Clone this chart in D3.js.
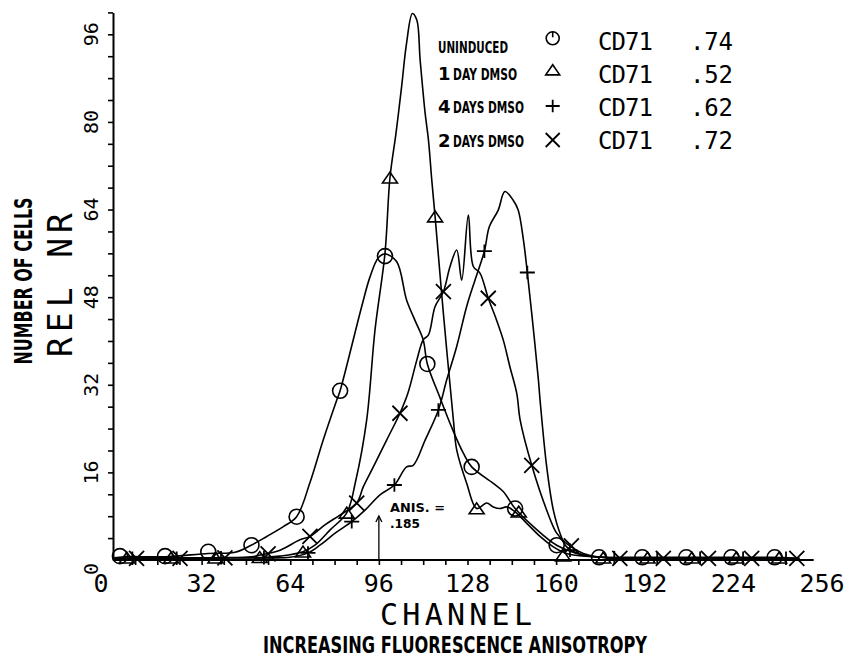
<!DOCTYPE html>
<html>
<head>
<meta charset="utf-8">
<script src="https://cdn.jsdelivr.net/npm/d3@7"></script>
<style>
  body { margin: 0; background: #fff; }
  svg { display: block; }
  .tick line { stroke: #000; stroke-width: 1.6; }
  .domain { stroke: #000; stroke-width: 2; }
</style>
</head>
<body>
<div id="chart"></div>
<script>
// ---- data ----
var channelTicks = [0, 32, 64, 96, 128, 160, 192, 224, 256];
var countTicks = [0, 16, 32, 48, 64, 80, 96];
var seriesNames = ["UNINDUCED", "1 DAY DMSO", "4 DAYS DMSO", "2 DAYS DMSO"];
var seriesSymbols = ["circle", "triangle", "plus", "cross"];
var markerLabel = ["CD71", "CD71", "CD71", "CD71"];
var markerValues = [".74", ".52", ".62", ".72"];
var anisChannel = 96;
var anisText = ["ANIS. =", ".185"];

// uninduced (circle)
var uninducedCh = [0.5, 4, 18.8, 34.4, 44, 49.5, 55.5, 61.5, 66.3, 71.1, 75.9, 80.8, 82, 89.8, 92.8, 95.8, 98.2,
  102.4, 106, 109, 112, 113.5, 118.1, 122.4, 126.5, 129.5, 137.3, 140.9, 145.2, 151.8, 160.2, 169.7, 175.8,
  191, 206.5, 222, 238, 244];
var uninducedVal = [0.4, 0.6, 0.6, 1.2, 1.4, 2.6, 4.3, 6.1, 7.9, 14.1, 21.9, 29.2, 30.9, 46.3, 51.7, 55.2, 55.9,
  54.5, 47.5, 43.8, 40.2, 35.8, 29.6, 24.1, 19.5, 17.0, 14.0, 12.5, 9.4, 6.1, 2.7, 0.9, 0.5,
  0.5, 0.5, 0.5, 0.5, 0.4];
var uninducedMarkCh = [2.5, 18.8, 34.4, 50, 66.3, 82, 98.2, 113.5, 129.5, 145.2, 160.2, 175.5, 191.1, 207, 223.3, 238.9];
var uninducedMarkVal = [0.7, 0.7, 1.5, 2.7, 7.9, 30.9, 55.5, 35.8, 17, 9.4, 2.7, 0.5, 0.5, 0.5, 0.5, 0.5];

// 1 day dmso (triangle)
var oneDayCh = [0.5, 20, 40, 55, 60.3, 68.6, 72.9, 78.4, 84.4, 87.7, 91.6, 94.6, 98.2, 100, 102.2, 104.2, 106,
  108.1, 109.7, 110.9, 112.7, 113.9, 115.1, 116.3, 119.3, 122.9, 124.1, 127.7, 131.3, 134.9, 137.3, 139.7,
  142.2, 145.2, 149.4, 154.2, 159, 163.8, 173.4, 190, 210, 230, 246];
var oneDayVal = [0.3, 0.4, 0.4, 0.5, 0.7, 1.5, 2.7, 5.5, 8.6, 14.6, 25.6, 42, 56, 69.8, 78, 86.4, 94.4,
  99.8, 98.6, 91.3, 81.6, 76.7, 69.4, 62.7, 45, 25.6, 20.1, 14, 9.4, 10.4, 9.7, 9.4,
  9.7, 8.8, 6.7, 4.3, 2.4, 1.2, 0.6, 0.4, 0.4, 0.4, 0.3];
var oneDayMarkCh = [5, 21, 37, 53, 68.6, 84.4, 100, 116.3, 131.3, 146.5, 162.5, 177, 193, 209, 225, 240.5];
var oneDayMarkVal = [0.4, 0.4, 0.4, 0.5, 1.5, 8.6, 69.8, 62.7, 9.4, 8.8, 0.8, 0.4, 0.4, 0.4, 0.4, 0.4];

// 4 days dmso (plus)
var fourDaysCh = [0.5, 20, 40, 55, 63.9, 70.4, 74.7, 80.2, 86.2, 91, 96.4, 101.6, 106, 108.4, 112.7, 117.5,
  120.5, 124.1, 127.7, 130.7, 134.1, 135.9, 139.1, 141.5, 144.5, 146.3, 148.2, 149.6, 151.2, 153.6, 154.2,
  156.6, 159, 161.4, 163.8, 169.8, 180, 200, 220, 246];
var fourDaysVal = [0.3, 0.3, 0.4, 0.4, 0.5, 1.3, 2.7, 4.9, 7, 9.1, 11.9, 13.7, 17, 17.3, 21.9, 27.4,
  32.9, 39, 46.3, 51.1, 56.4, 60.9, 63.9, 67.3, 65.7, 63.9, 58.4, 52.5, 45, 32.9, 29.2,
  17, 9.1, 4.9, 2.4, 0.9, 0.4, 0.3, 0.3, 0.3];
var fourDaysMarkCh = [7, 23, 39, 54.5, 70.4, 86.2, 101.6, 117.5, 134.1, 149.6, 165, 181, 196.5, 212, 227.5, 243];
var fourDaysMarkVal = [0.3, 0.3, 0.4, 0.4, 1.3, 7, 13.7, 27.4, 56.4, 52.5, 1.8, 0.4, 0.3, 0.3, 0.3, 0.3];

// 2 days dmso (cross)
var twoDaysCh = [0.5, 20, 40, 50, 53.1, 60.3, 67.5, 71.1, 76.5, 81.9, 88, 90.4, 94, 98.8, 103.6, 106.5, 109.7,
  112, 113.9, 116.3, 119.3, 121.7, 124.1, 125.9, 128.3, 130.1, 132.5, 135.5, 138.5, 140.9, 143.3, 145.8,
  147, 151.2, 156.6, 160.2, 163.8, 169.8, 174.7, 190, 220, 248];
var twoDaysVal = [0.3, 0.3, 0.4, 0.6, 0.9, 1.8, 3.7, 4.3, 6.4, 8.2, 10.4, 13.4, 17, 21.9, 26.8, 30.5, 36.5,
  40.2, 41.1, 46.3, 49, 53.6, 56.6, 51.1, 63, 53.6, 52.4, 47.8, 43.8, 40.2, 35.3, 30.4,
  25.6, 17.3, 9.1, 4.9, 3, 1.2, 0.6, 0.3, 0.3, 0.3];
var twoDaysMarkCh = [8.5, 24.2, 40.4, 56, 71.1, 88, 103.6, 119.3, 135.5, 151.2, 165.5, 183, 198.7, 215, 230.6, 246.9];
var twoDaysMarkVal = [0.3, 0.3, 0.4, 1.1, 4.3, 10.4, 26.8, 49, 47.8, 17.3, 2.6, 0.3, 0.3, 0.3, 0.3, 0.3];

var svgWidth = 845;
var svgHeight = 659;

var svg = d3.select("#chart")
    .append("svg")
    .attr("width", svgWidth)
    .attr("height", svgHeight);

var x = d3.scaleLinear().domain([0, 256]).range([113, 822]);
var y = d3.scaleLinear().domain([0, 100]).range([560, 12.4]);

var mono = "'DejaVu Sans Mono', monospace";
var bold = "'DejaVu Sans', sans-serif";

// y axis
svg.append("g")
    .attr("transform", "translate(" + x(0) + ",0)")
    .call(d3.axisLeft(y).tickValues(d3.range(4, 101, 4)).tickSize(5).tickSizeOuter(0).tickFormat(""));

svg.selectAll("text.ylab")
    .data(countTicks)
    .enter().append("text")
    .attr("class", "ylab")
    .attr("transform", d => "translate(98," + (y(d) + (d === 0 ? 9 : 0)) + ") rotate(-90)")
    .attr("text-anchor", "middle")
    .attr("font-family", mono)
    .attr("font-size", 20)
    .text(d => d);

// x axis
svg.append("g")
    .attr("transform", "translate(0," + y(0) + ")")
    .call(d3.axisBottom(x).tickValues(d3.range(8, 169, 8)).tickSize(5).tickFormat(""))
    .call(g => g.select(".domain").remove());

svg.append("line")
    .attr("x1", x(0)).attr("x2", x(253))
    .attr("y1", y(0)).attr("y2", y(0))
    .attr("stroke", "#000").attr("stroke-width", 2);

svg.selectAll("text.xlab")
    .data(channelTicks)
    .enter().append("text")
    .attr("class", "xlab")
    .attr("x", d => x(d) - (d === 0 ? 12 : 0))
    .attr("y", 592)
    .attr("text-anchor", "middle")
    .attr("font-family", mono)
    .attr("font-size", 25)
    .text(d => d);

// axis titles
svg.append("text")
    .attr("x", 456).attr("y", 625)
    .attr("text-anchor", "middle")
    .attr("font-family", mono).attr("font-size", 30)
    .attr("textLength", 152).attr("lengthAdjust", "spacing")
    .text("CHANNEL");

svg.append("text")
    .attr("x", 455).attr("y", 653)
    .attr("text-anchor", "middle")
    .attr("font-family", bold).attr("font-weight", "bold").attr("font-size", 23)
    .attr("textLength", 384).attr("lengthAdjust", "spacingAndGlyphs")
    .text("INCREASING FLUORESCENCE ANISOTROPY");

svg.append("text")
    .attr("transform", "translate(72,285) rotate(-90)")
    .attr("text-anchor", "middle")
    .attr("font-family", mono).attr("font-size", 33)
    .attr("textLength", 144).attr("lengthAdjust", "spacing")
    .text("REL NR");

svg.append("text")
    .attr("transform", "translate(32,281) rotate(-90)")
    .attr("text-anchor", "middle")
    .attr("font-family", bold).attr("font-weight", "bold").attr("font-size", 24)
    .attr("textLength", 167).attr("lengthAdjust", "spacingAndGlyphs")
    .text("NUMBER OF CELLS");

// markers
function drawMarker(g, type, cx, cy, s) {
    if (type === "circle") {
        g.append("circle").attr("cx", cx).attr("cy", cy).attr("r", s)
            .attr("fill", "none").attr("stroke", "#000").attr("stroke-width", 1.6);
    } else if (type === "triangle") {
        g.append("path")
            .attr("d", "M" + (cx - s) + "," + (cy + s * 0.7) + "L" + cx + "," + (cy - s * 0.75) + "L" + (cx + s) + "," + (cy + s * 0.7) + "Z")
            .attr("fill", "none").attr("stroke", "#000").attr("stroke-width", 1.6);
    } else if (type === "plus") {
        g.append("path")
            .attr("d", "M" + (cx - s) + "," + cy + "H" + (cx + s) + "M" + cx + "," + (cy - s * 0.9) + "V" + (cy + s * 0.9))
            .attr("fill", "none").attr("stroke", "#000").attr("stroke-width", 1.8);
    } else {
        g.append("path")
            .attr("d", "M" + (cx - s) + "," + (cy - s) + "L" + (cx + s) + "," + (cy + s) + "M" + (cx - s) + "," + (cy + s) + "L" + (cx + s) + "," + (cy - s))
            .attr("fill", "none").attr("stroke", "#000").attr("stroke-width", 1.8);
    }
}

var line = d3.line()
    .x(d => x(d[0]))
    .y(d => y(d[1]))
    .curve(d3.curveCatmullRom.alpha(0.5));

var curves = [
    [uninducedCh, uninducedVal, uninducedMarkCh, uninducedMarkVal],
    [oneDayCh, oneDayVal, oneDayMarkCh, oneDayMarkVal],
    [fourDaysCh, fourDaysVal, fourDaysMarkCh, fourDaysMarkVal],
    [twoDaysCh, twoDaysVal, twoDaysMarkCh, twoDaysMarkVal]
];

var plot = svg.append("g");
curves.forEach(function (c, i) {
    var pts = c[0].map((ch, k) => [ch, c[1][k]]);
    plot.append("path")
        .datum(pts)
        .attr("d", line)
        .attr("fill", "none")
        .attr("stroke", "#000")
        .attr("stroke-width", 1.6);
    var mg = plot.append("g");
    c[2].forEach(function (ch, k) {
        drawMarker(mg, seriesSymbols[i], x(ch), y(c[3][k]), 7.5);
    });
});

// anisotropy arrow
var ax = x(anisChannel);
svg.append("line")
    .attr("x1", ax).attr("x2", ax).attr("y1", y(0)).attr("y2", 516)
    .attr("stroke", "#000").attr("stroke-width", 1.3);
svg.append("path")
    .attr("d", "M" + (ax - 3) + ",522L" + ax + ",516L" + (ax + 3) + ",522")
    .attr("fill", "none").attr("stroke", "#000").attr("stroke-width", 1.3);
svg.append("text")
    .attr("x", 390).attr("y", 511.5)
    .attr("font-family", bold).attr("font-weight", "bold").attr("font-size", 13)
    .attr("textLength", 55).attr("lengthAdjust", "spacingAndGlyphs")
    .text(anisText[0]);
svg.append("text")
    .attr("x", 390).attr("y", 528)
    .attr("font-family", bold).attr("font-weight", "bold").attr("font-size", 12)
    .attr("textLength", 30).attr("lengthAdjust", "spacingAndGlyphs")
    .text(anisText[1]);

// legend
var legendBase = [52.7, 80, 113, 147];
var symbolY = [38.3, 70, 106, 140];
var cdBase = [50, 82.7, 116, 149.3];
var wordLen = [70, 64, 71, 71];

seriesNames.forEach(function (name, i) {
    var parts = name.split(" ");
    if (/^\d/.test(parts[0])) {
        svg.append("text")
            .attr("x", 438).attr("y", legendBase[i])
            .attr("font-family", bold).attr("font-weight", "bold").attr("font-size", 18)
            .text(parts[0]);
        svg.append("text")
            .attr("x", 453).attr("y", legendBase[i])
            .attr("font-family", bold).attr("font-weight", "bold").attr("font-size", 15)
            .attr("textLength", wordLen[i]).attr("lengthAdjust", "spacingAndGlyphs")
            .text(parts.slice(1).join(" "));
    } else {
        svg.append("text")
            .attr("x", 438).attr("y", legendBase[i])
            .attr("font-family", bold).attr("font-weight", "bold").attr("font-size", 15)
            .attr("textLength", wordLen[i]).attr("lengthAdjust", "spacingAndGlyphs")
            .text(name);
    }
    var lg = svg.append("g");
    drawMarker(lg, seriesSymbols[i], 552.7, symbolY[i], seriesSymbols[i] === "circle" ? 6.5 : 7);
    if (seriesSymbols[i] === "circle") {
        lg.append("line")
            .attr("x1", 552.7).attr("x2", 552.7)
            .attr("y1", symbolY[i] - 6.5).attr("y2", symbolY[i] - 1)
            .attr("stroke", "#000").attr("stroke-width", 1.6);
    }
    svg.append("text")
        .attr("x", 598).attr("y", cdBase[i])
        .attr("font-family", mono).attr("font-size", 24)
        .attr("textLength", 55).attr("lengthAdjust", "spacing")
        .text(markerLabel[i]);
    svg.append("text")
        .attr("x", 690).attr("y", cdBase[i])
        .attr("font-family", mono).attr("font-size", 24)
        .attr("textLength", 43).attr("lengthAdjust", "spacing")
        .text(markerValues[i]);
});
</script>
</body>
</html>
